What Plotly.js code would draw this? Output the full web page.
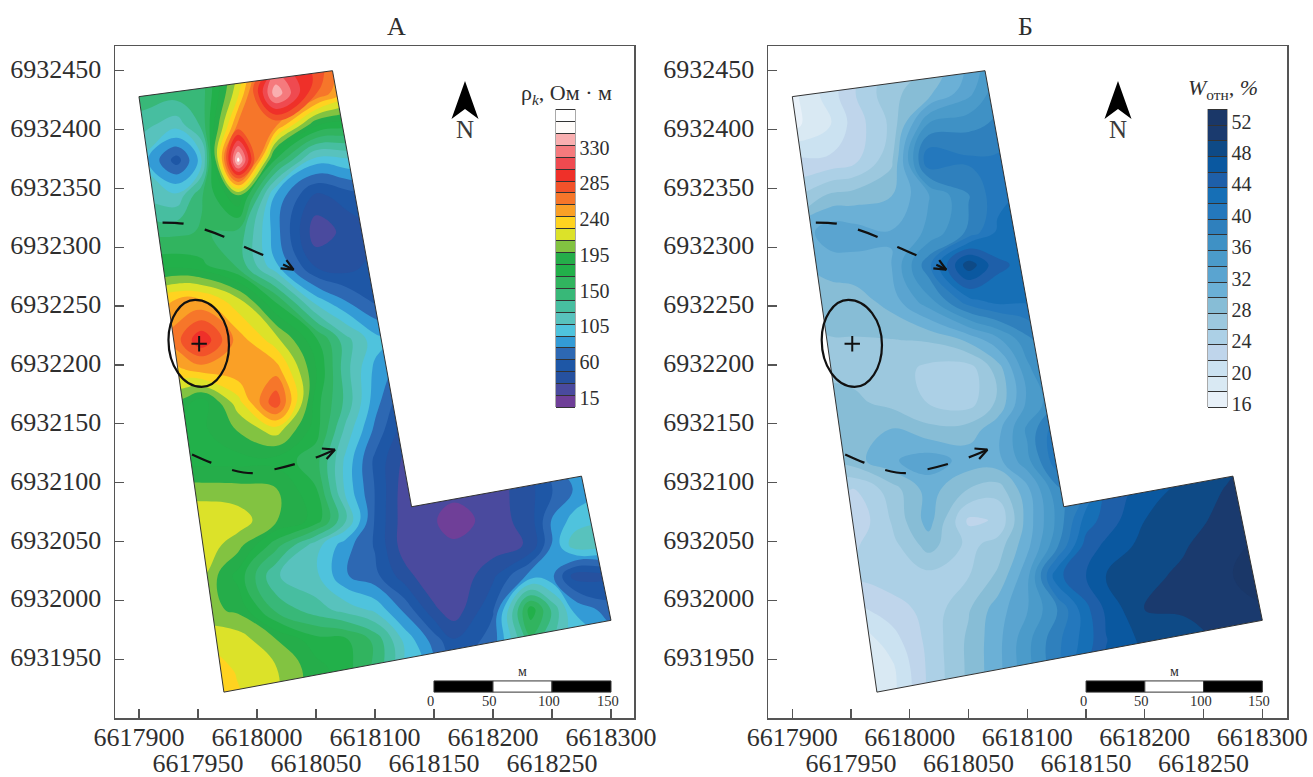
<!DOCTYPE html>
<html>
<head>
<meta charset="utf-8">
<script src="https://cdn.plot.ly/plotly-3.0.1.min.js"></script>
<style>html,body{margin:0;padding:0;background:#fff}</style>
</head>
<body>
<div id="chart" style="width:1313px;height:777px"></div>
<script>
// ---- grid of survey coordinates (x easting, y northing)
const gridX = [6617875,6617900,6617932,6617953,6617984,6618016,6618050,6618075,6618100,6618125,6618150,6618167,6618200,6618232,6618250,6618269,6618300,6618325];
const gridY = [6932475,6932450,6932431,6932404,6932374,6932344,6932313,6932285,6932255,6932221,6932196,6932168,6932145,6932119,6932094,6932068,6932047,6932021,6931992,6931966,6931941,6931900];

// ---- resistivity, Ohm*m (panel A), rows follow gridY
const rhoValues = [
[150,150,155,145,200,290,280,245,220,205,200,200,200,200,200,200,200,200],
[150,150,155,145,215,315,285,245,220,205,200,200,200,200,200,200,200,200],
[150,150,146,146,225,345,275,240,215,200,190,190,190,190,190,190,190,190],
[130,130,115,142,262,262,185,175,170,165,160,160,160,160,160,160,160,160],
[100,105,56,100,356,165,100,105,115,120,120,120,120,120,120,120,120,120],
[120,120,112,152,198,90,45,55,65,70,70,70,70,70,70,70,70,70],
[150,150,150,155,150,85,24,38,50,60,60,60,60,60,60,60,60,60],
[175,175,178,172,150,95,45,40,55,60,60,60,60,60,60,60,60,60],
[220,225,245,245,218,165,100,78,60,55,55,55,55,55,55,55,55,55],
[235,240,268,302,252,220,172,130,100,85,80,80,80,80,80,80,80,80],
[230,235,240,250,255,252,185,130,90,70,65,65,65,65,65,65,65,65],
[180,185,195,175,222,286,175,135,85,50,45,45,45,45,45,45,45,45],
[178,178,178,180,200,222,175,120,75,40,25,25,25,30,50,70,90,90],
[178,178,178,178,178,178,160,105,60,30,22,20,25,45,75,95,110,110],
[195,200,205,205,204,200,170,105,63,25,20,24,25,45,62,80,100,100],
[210,215,225,228,222,200,178,125,62,25,20,11,25,42,80,100,110,110],
[220,225,225,224,205,160,115,85,62,25,23,21,25,36,80,118,115,115],
[205,205,220,215,178,125,112,80,68,40,20,20,45,85,82,42,45,50],
[190,195,200,205,195,150,130,118,105,75,37,24,62,178,136,92,70,70],
[210,215,220,222,222,200,175,172,150,105,72,50,70,150,125,100,90,90],
[225,230,232,250,225,215,190,175,150,110,85,65,75,130,115,100,90,90],
[245,250,250,255,238,215,180,170,135,100,70,60,70,110,100,90,90,90]
];

// ---- relative moisture, % (panel Б), rows follow gridY
const moistValues = [
[17,17,20,23,26,28,32,36,38,38,38,38,38,38,38,38,38,38],
[17,17,20,23,26.5,28,32,36,38,38,38,38,38,38,38,38,38,38],
[17,17,20.6,23.5,27,29,33,37,38,38,38,38,38,38,38,38,38,38],
[17,17,19.5,22.5,26,36,37,38,40,40,40,40,40,40,40,40,40,40],
[22,22,22,23,27,41.5,40,40,40,40,40,40,40,40,40,40,40,40],
[25,25,28,28.5,29.5,33.5,37.5,41,42,42,42,42,42,42,42,42,42,42],
[29,29.5,33,32.5,31.7,34,38,42,43,43,43,43,43,43,43,43,43,43],
[29,29,30.5,31,31.5,39,49,44,43,43,43,43,43,43,43,43,43,43],
[28,28,28.5,28.6,30.5,35,41,42.5,42,42,42,42,42,42,42,42,42,42],
[27,27,27.5,27.5,27.5,27.8,30,33,37,40,40,40,40,40,40,40,40,40],
[27,27,27,27,26.8,25,24.5,28.5,35,39,40,40,40,40,40,40,40,40],
[28,28,28.5,28,27,25.5,24.7,28,34,37,38,38,38,38,38,38,38,38],
[28.5,28.5,28.7,29,29.7,28.2,28.5,31,36,41,42,42,42,42,42,42,42,42],
[28,28,28,28.8,31.3,32.7,30.8,31,35,41,42,42,44,46,48,49,50,50],
[23,24,24,23.5,26.5,30.5,27.5,26.5,31,37,40,44,46.5,48.2,49,49.7,50.5,51],
[19,19,21,22,25.7,30.5,23.2,23.8,30.5,36,42.5,44.5,47.6,48.8,49.4,50.5,51,51],
[21,21,23,23.4,24.8,28.5,25,26.5,31,37,44.5,46,48.3,49.3,50.2,51,52,52],
[22,22,24,24,24.7,25,25.5,28,33,43,45.6,47.6,49,50,50.8,51.5,52,52],
[20,20,22,21,22.6,24.3,27.4,30.7,33.5,37.5,43,46,49.7,49.8,50.2,51,51.5,51.5],
[17,17,18,18,20.6,24.2,28,31,35,39,42.5,45.5,48.2,48.8,49.3,50,50.5,50.5],
[15.8,15.8,16,16.5,19,24,28,31,35,39,43.5,46,47.6,48.5,49,49,49,49],
[15.8,15.8,16,17,19,24,28,31,35,39,43,46,47.5,48.5,49,49,49,49]
];

// ---- band colours, low to high
const rhoColors = ['#6f3f98','#4a4a9e','#26519f','#1e57a6','#2d68b3','#339bd6','#4fc3dd','#58c2bd','#47bea0','#38b878','#31b45f','#22b04a','#25ad4a','#82c341','#dce229','#ffd320','#faa026','#f6762a','#f2522a','#ef3029','#ef4a50','#f57a7d','#f9afb0','#fffcfa','#ffffff'];
const moistColors = ['#e8f1f9','#d9e9f3','#cbe2f1','#bfd5eb','#acd0e6','#9cc8de','#87bdd6','#6bb0d6','#5aa4d0','#4b9bca','#3f91c5','#2f80bd','#2478bd','#166fb6','#1e5fa9','#0a58a0','#0e4a86','#1a3a6e','#1a3768'];
const rhoLevels = {start:3.6, end:378.6, size:15};
const moistLevels = {start:15.6, end:53.6, size:2};
const rhoTicks = [15,60,105,150,195,240,285,330];
const moistTicks = [16,20,24,28,32,36,40,44,48,52];

// ---- axes
const xTicksUpper = [6617900,6618000,6618100,6618200,6618300];
const xTicksLower = [6617950,6618050,6618150,6618250];
const yTicks = [6931950,6932000,6932050,6932100,6932150,6932200,6932250,6932300,6932350,6932400,6932450];

// ---- survey outline, profiles, anomaly
const outlineX = [6617900,6618064,6618131,6618275,6618300,6617972];
const outlineY = [6932428,6932450,6932079.5,6932105.5,6931983,6931922];
const profile1X = [6617920,6617938,6617956,6617972,6617990,6618006,6618031];
const profile1Y = [6932321,6932320,6932315,6932309,6932300,6932293,6932281];
const head1X = [6618020,6618031,6618025];
const head1Y = [6932282,6932281,6932289];
const profile2X = [6617945,6617961,6617978,6617996,6618016,6618033,6618050,6618066];
const profile2Y = [6932124,6932117,6932111,6932108,6932111.6,6932116,6932121.4,6932128];
const head2X = [6618055,6618066,6618059];
const head2Y = [6932129,6932128,6932120];
const crossX = [6617951];
const crossY = [6932218];
// anomaly loop: top, right, bottom, left extremes
const loopX = [6617947.6,6617976.3,6617953,6617925];
const loopY = [6932255.2,6932217,6932181.3,6932221.2];
const scaleValues = [0,50,100,150];
const scaleOriginX = 6618150;
const scaleY = [6931922,6931931.5];

const serif = '"Liberation Serif","Times New Roman",serif';
const ink = '#2e2e2e';
const frame = '#555555';
const px = p => p/1313;
const py = p => 1-p/777;

function stepScale(colors){
  const n = colors.length, out = [[0,'rgba(255,255,255,0)']];
  colors.forEach((c,i)=>out.push([(i+1)/(n+1),c]));
  out.push([1,'rgba(255,255,255,0)']);
  return out;
}

function contourPair(z, colors, levels, ticks, xa, ya, cbLeft){
  const rows = z.slice().reverse(), ys = gridY.slice().reverse();
  const base = {type:'contour', x:gridX, y:ys, z:rows, xaxis:xa, yaxis:ya, autocontour:false,
    colorscale:stepScale(colors), hoverinfo:'skip', connectgaps:true};
  const n = colors.length, band = 298/n;
  return [
    Object.assign({}, base, {
      contours:{coloring:'fill', showlines:true, start:levels.start, end:levels.end, size:levels.size},
      line:{width:1, color:'#333333', smoothing:1.2},
      showscale:true,
      colorbar:{x:px(cbLeft), xanchor:'left', y:py(109-band/2), yanchor:'top', lenmode:'pixels', len:298+band,
        thicknessmode:'pixels', thickness:19, xpad:0, ypad:0, outlinewidth:0,
        tickmode:'array', tickvals:ticks, ticktext:ticks.map(String), ticks:'',
        tickfont:{family:serif,size:20,color:ink}, bgcolor:'rgba(0,0,0,0)'}
    }),
    Object.assign({}, base, {
      contours:{coloring:'fill', showlines:false, start:levels.start, end:levels.end, size:levels.size},
      line:{width:0, smoothing:1.2}, showscale:false
    })
  ];
}

function maskTrace(xa, ya){
  const oxs = [6617700,6617700,6618500,6618500,6617700];
  const oys = [6932600,6931800,6931800,6932600,6932600];
  const X = oxs.concat(outlineX, outlineX[0], oxs[0]);
  const Y = oys.concat(outlineY, outlineY[0], oys[0]);
  return {type:'scatter', mode:'lines', x:X, y:Y, xaxis:xa, yaxis:ya, fill:'toself', fillcolor:'#ffffff',
    line:{width:0}, hoverinfo:'skip', showlegend:false};
}
function outlineTrace(xa, ya){
  return {type:'scatter', mode:'lines', x:outlineX.concat(outlineX[0]), y:outlineY.concat(outlineY[0]),
    xaxis:xa, yaxis:ya, line:{color:'#333333', width:1}, hoverinfo:'skip', showlegend:false};
}
function overlayTraces(xa, ya){
  const ln = (x,y,extra)=>({type:'scatter', mode:'lines', x, y, xaxis:xa, yaxis:ya, hoverinfo:'skip', showlegend:false,
    line:Object.assign({color:'#111111', width:2.2}, extra||{})});
  return [
    ln(profile1X, profile1Y, {shape:'spline', dash:'21px,22px'}),
    ln(head1X, head1Y),
    ln(profile2X, profile2Y, {shape:'spline', dash:'21px,22px'}),
    ln(head2X, head2Y),
    {type:'scatter', mode:'markers', x:crossX, y:crossY, xaxis:xa, yaxis:ya, hoverinfo:'skip', showlegend:false,
      marker:{symbol:'cross-thin', size:11, line:{color:'#111111', width:2}}}
  ];
}

const data = [].concat(
  contourPair(rhoValues, rhoColors, rhoLevels, rhoTicks, 'x', 'y', 556),
  [maskTrace('x','y'), outlineTrace('x','y')],
  contourPair(moistValues, moistColors, moistLevels, moistTicks, 'x2', 'y2', 1208),
  [maskTrace('x2','y2'), outlineTrace('x2','y2')],
  overlayTraces('x3','y'),
  overlayTraces('x4','y2')
);

const rangeAX = [6617879.7,6618319.5], rangeBX = [6617879.3,6618321], rangeY = [6931900,6932471];
const domA = [px(115),px(634)], domB = [px(768),px(1287)], domY = [py(718),py(46)];
const tickFont = {family:serif, size:26, color:ink};

function xAxis(dom, range){
  return {domain:dom, range, tickmode:'array', tickvals:xTicksUpper, ticktext:xTicksUpper.map(String),
    ticks:'inside', ticklen:9, tickwidth:1.3, tickcolor:frame, showline:true, linecolor:frame, linewidth:1.5, mirror:true,
    minor:{tickmode:'array', tickvals:xTicksLower, ticks:'inside', ticklen:9, tickwidth:1.3, tickcolor:frame, showgrid:false},
    showgrid:false, zeroline:false, tickfont:tickFont, tickangle:0, automargin:false, fixedrange:true, ticklabelstandoff:-5};
}
function yAxis(dom, anchor){
  return {domain:dom, range:rangeY, tickmode:'array', tickvals:yTicks, ticktext:yTicks.map(String), anchor,
    ticks:'inside', ticklen:9, tickwidth:1.3, tickcolor:frame, showline:true, linecolor:frame, linewidth:1.5, mirror:true,
    showgrid:false, zeroline:false, tickfont:tickFont, automargin:false, ticklabelstandoff:7, ticklabelshift:-2, fixedrange:true};
}
function lowerAxis(over, dom, range){
  return {overlaying:over, domain:dom, range, anchor:'free', position:py(745), tickmode:'array',
    tickvals:xTicksLower, ticktext:xTicksLower.map(String), ticks:'', showline:false, showgrid:false,
    zeroline:false, tickfont:tickFont, tickangle:0, automargin:false, fixedrange:true};
}

function loopPath(){
  const k = 0.55, X = loopX, Y = loopY;
  let d = `M ${X[0]} ${Y[0]}`;
  for(let i=0;i<4;i++){
    const a=i, b=(i+1)%4;
    const horizFirst = i%2===0;
    const c1x = horizFirst ? X[a]+k*(X[b]-X[a]) : X[a];
    const c1y = horizFirst ? Y[a] : Y[a]+k*(Y[b]-Y[a]);
    const c2x = horizFirst ? X[b] : X[b]+k*(X[a]-X[b]);
    const c2y = horizFirst ? Y[b]+k*(Y[a]-Y[b]) : Y[b];
    d += ` C ${c1x} ${c1y} ${c2x} ${c2y} ${X[b]} ${Y[b]}`;
  }
  return d+' Z';
}

// north arrow, scale bar, loop for one panel
function panelDecor(dx, cbLeft, xref, yref){
  const shapes = [];
  shapes.push({type:'path', xref:'paper', yref:'paper', fillcolor:'#000', line:{width:0},
    path:`M ${px(465+dx)} ${py(81)} L ${px(478.5+dx)} ${py(119)} L ${px(465+dx)} ${py(109)} L ${px(451.5+dx)} ${py(119)} Z`});
  scaleValues.slice(0,3).forEach((v,i)=>{
    shapes.push({type:'rect', xref, yref, x0:scaleOriginX+v, x1:scaleOriginX+scaleValues[i+1], y0:scaleY[0], y1:scaleY[1],
      fillcolor:i===1?'#ffffff':'#000000', line:{color:'#333', width:1}});
  });
  shapes.push({type:'path', xref, yref, path:loopPath(), line:{color:'#111', width:2.2}, fillcolor:'rgba(0,0,0,0)'});
  shapes.push({type:'rect', xref:'paper', yref:'paper', x0:px(cbLeft), x1:px(cbLeft+19), y0:py(407), y1:py(109),
    line:{color:'#555', width:1}, fillcolor:'rgba(0,0,0,0)'});
  const ann = [
    {xref:'paper', yref:'paper', x:px(465+dx), y:py(129), text:'N', showarrow:false, xanchor:'center', yanchor:'middle',
     font:{family:serif,size:25,color:'#3a3a3a'}},
    {xref, yref:'paper', x:scaleOriginX+75, y:py(671.5), text:'м', showarrow:false, xanchor:'center', yanchor:'middle',
     font:{family:serif,size:14,color:ink}}
  ];
  scaleValues.forEach(v=>ann.push({xref, yref:'paper', x:scaleOriginX+v, y:py(700.5), xshift:-3, text:String(v), showarrow:false,
    xanchor:'center', yanchor:'middle', font:{family:serif,size:14.5,color:ink}}));
  return {shapes, ann};
}
const decA = panelDecor(0,556,'x','y');
const decB = panelDecor(653,1208,'x2','y2');

const layout = {
  width:1313, height:777, margin:{l:0,r:0,t:0,b:0}, paper_bgcolor:'#fff', plot_bgcolor:'#fff', showlegend:false,
  xaxis:xAxis(domA,rangeAX), yaxis:yAxis(domY,'x'),
  xaxis2:xAxis(domB,rangeBX), yaxis2:yAxis(domY,'x2'),
  xaxis3:lowerAxis('x',domA,rangeAX), xaxis4:lowerAxis('x2',domB,rangeBX),
  shapes:decA.shapes.concat(decB.shapes),
  annotations:[
    {xref:'paper',yref:'paper',x:px(396),y:py(26),text:'А',showarrow:false,xanchor:'center',yanchor:'middle',font:{family:serif,size:26,color:ink}},
    {xref:'paper',yref:'paper',x:px(1025),y:py(26),text:'Б',showarrow:false,xanchor:'center',yanchor:'middle',font:{family:serif,size:26,color:ink}},
    {xref:'paper',yref:'paper',x:px(566),y:py(94),text:'ρ<sub><i>k</i></sub>, Ом · м',showarrow:false,xanchor:'center',yanchor:'middle',font:{family:serif,size:22,color:ink}},
    {xref:'paper',yref:'paper',x:px(1223),y:py(89),text:'<i>W</i><sub>отн</sub><i>, %</i>',showarrow:false,xanchor:'center',yanchor:'middle',font:{family:serif,size:22,color:ink}}
  ].concat(decA.ann, decB.ann)
};
Plotly.newPlot('chart', data, layout, {displayModeBar:false, staticPlot:true});
</script>
</body>
</html>
